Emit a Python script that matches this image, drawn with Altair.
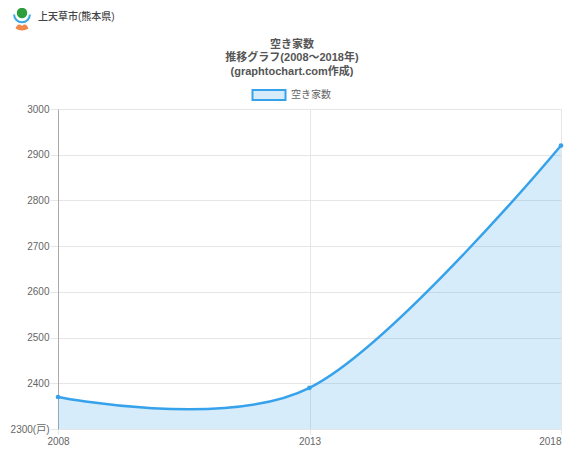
import altair as alt
import pandas as pd

years = [2008, 2013, 2018]
values = [2370, 2390, 2920]
series_name = "空き家数"
title_lines = ["空き家数", "推移グラフ(2008～2018年)", "(graphtochart.com作成)"]
logo_text = "上天草市(熊本県)"
y_ticks = [2300, 2400, 2500, 2600, 2700, 2800, 2900, 3000]
x_ticks = [2008, 2013, 2018]

df = pd.DataFrame({"year": years, "value": values, "series": [series_name] * len(years)})

FONT = "Liberation Sans, Noto Sans CJK JP, sans-serif"
BLUE = "#36A2EB"
FILL = "rgba(54,162,235,0.2)"
GRID = "#e6e6e6"

x = alt.X(
    "year:Q",
    scale=alt.Scale(domain=[2008, 2018], nice=False, zero=False),
    axis=alt.Axis(
        values=x_ticks, format="d", title=None, grid=True, gridColor=GRID,
        domainColor=GRID, tickColor=GRID, tickSize=5, labelFont=FONT,
        labelFontSize=10, labelColor="#666", labelPadding=2, labelFlush=False,
        labelAlign={"condition": {"test": "datum.value == 2018", "value": "right"}, "value": "center"},
    ),
)
y = alt.Y(
    "value:Q",
    scale=alt.Scale(domain=[2300, 3000], nice=False, zero=False),
    axis=alt.Axis(
        values=y_ticks, title=None, grid=True, gridColor=GRID,
        domainColor="#aaaaaa", tickColor=GRID, tickSize=8, labelFont=FONT,
        labelFontSize=10, labelColor="#666", labelPadding=1,
        labelExpr="datum.value == 2300 ? '2300(戸)' : datum.value",
    ),
)

legend = alt.Legend(
    title=None, orient="none", legendX=205, legendY=-20, padding=0,
    symbolType="M-3.3,-1H3.3V1H-3.3Z", symbolSize=100, labelOffset=16,
    labelFont=FONT, labelFontSize=10, labelColor="#666",
    symbolStrokeColor=BLUE, symbolStrokeWidth=2, symbolOpacity=1,
)

area = alt.Chart(df).mark_area(
    interpolate="cardinal", tension=0, fillOpacity=1
).encode(
    x=x, y=y, y2=alt.datum(2300),
    color=alt.Color("series:N", scale=alt.Scale(range=[FILL]), legend=legend),
)
line = alt.Chart(df).mark_line(
    interpolate="cardinal", tension=0, color=BLUE, strokeWidth=2.5
).encode(x=x, y=y)
pts = alt.Chart(df).mark_circle(size=22, color=BLUE, opacity=1).encode(x=x, y=y)

title_df = pd.DataFrame({"t": ["\n".join(title_lines)]})
title_txt = alt.Chart(title_df).mark_text(
    align="center", baseline="middle", font=FONT, fontSize=11, fontWeight="bold",
    color="#555", lineBreak="\n", lineHeight=13.5,
).encode(text="t:N", x=alt.value(234), y=alt.value(-64.5))

logo_df = pd.DataFrame({"t": [logo_text]})
logo_txt = alt.Chart(logo_df).mark_text(
    align="left", baseline="middle", font=FONT, fontSize=10, fontWeight=500, color="#444"
).encode(text="t:N", x=alt.value(-20), y=alt.value(-92))
logo_green = alt.Chart(logo_df).mark_circle(size=110, color="#2e9e3c", opacity=1).encode(
    x=alt.value(-36), y=alt.value(-96))
logo_blue = alt.Chart(logo_df).mark_point(
    shape="M-1,-0.2A1,1 0 0 0 1,-0.2", size=250, color="#3aa6e0", strokeWidth=2, filled=False, opacity=1
).encode(x=alt.value(-36), y=alt.value(-93))
logo_orange = alt.Chart(logo_df).mark_point(
    shape="M-1,0.4Q-0.6,-0.6 0,0Q0.6,-0.6 1,0.4Q0,1 -1,0.4Z", size=170, color="#f0884a", filled=True, opacity=1
).encode(x=alt.value(-36), y=alt.value(-83))

chart = alt.layer(area, line, pts, title_txt, logo_txt, logo_green, logo_blue, logo_orange).properties(
    width=503, height=320,
    padding={"left": 50, "top": 101, "right": 4, "bottom": 30},
    autosize=alt.AutoSizeParams(type="none"),
    background="white",
).configure_view(strokeWidth=0)

chart.save("out.html", embed_options={"renderer": "svg", "actions": False})
